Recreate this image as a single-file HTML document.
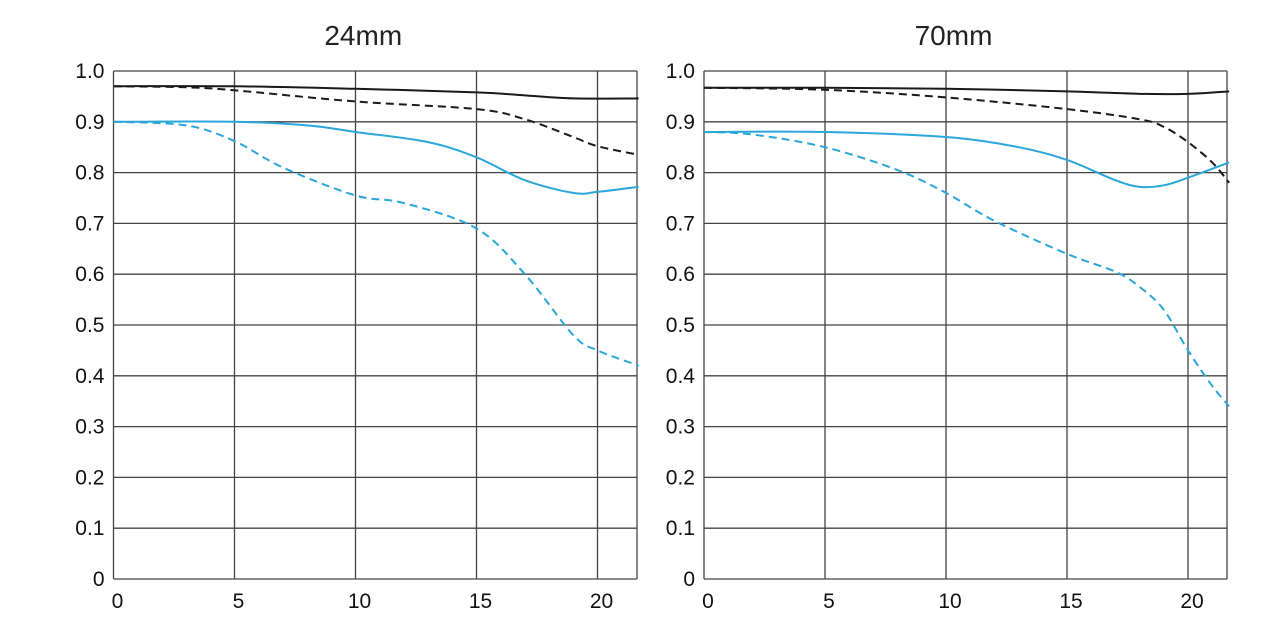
<!DOCTYPE html>
<html><head><meta charset="utf-8"><style>
html,body{margin:0;padding:0;background:#fff;}
svg{display:block;font-family:"Liberation Sans",sans-serif;}
</style></head><body>
<svg id="c" width="1279" height="627"></svg>
<script>
const xTicks=[0,5,10,15,20];
const yTicks=[0,0.1,0.2,0.3,0.4,0.5,0.6,0.7,0.8,0.9,1.0];
const yTickLabels=["0","0.1","0.2","0.3","0.4","0.5","0.6","0.7","0.8","0.9","1.0"];
const titles=["24mm","70mm"];
const a_blackSolid=[[0,.97],[5,.97],[10,.965],[15,.958],[17,.952],[19,.946],[21.7,.946]];
const a_blackDash=[[0,.97],[3,.968],[5,.962],[10,.94],[15,.925],[17,.905],[19,.87],[20,.852],[21.7,.835]];
const a_blueSolid=[[0,.9],[5,.9],[8,.893],[10,.88],[13,.86],[15,.83],[17,.785],[19,.76],[20,.762],[21.7,.772]];
const a_blueDash=[[0,.9],[3,.893],[5,.862],[7,.81],[10,.755],[12,.74],[15,.69],[17,.6],[19,.48],[20,.45],[21.7,.42]];
const b_blackSolid=[[0,.967],[5,.967],[10,.965],[15,.96],[18,.955],[20,.955],[21.7,.96]];
const b_blackDash=[[0,.967],[5,.963],[10,.948],[15,.925],[18,.905],[19,.89],[20,.86],[21,.82],[21.7,.78]];
const b_blueSolid=[[0,.88],[5,.88],[10,.87],[13,.85],[15,.825],[17,.785],[18,.772],[19,.775],[20,.79],[21.7,.82]];
const b_blueDash=[[0,.88],[2,.875],[5,.85],[8,.805],[10,.76],[12,.705],[15,.64],[17,.605],[18,.575],[19,.53],[20,.45],[21,.38],[21.7,.34]];
const seriesSets=[[a_blackSolid,a_blackDash,a_blueSolid,a_blueDash],[b_blackSolid,b_blackDash,b_blueSolid,b_blueDash]];
const NS="http://www.w3.org/2000/svg";
const svg=document.getElementById('c');
function mk(tag,attrs,parent){const e=document.createElementNS(NS,tag);for(const k in attrs)e.setAttribute(k,attrs[k]);(parent||svg).appendChild(e);return e;}
const panels=[{x0:113.5,x1:637},{x0:704,x1:1227}];
const yTop=71,yBot=579,xPer=24.2;
const styles=[{c:"#1a1a1a",d:""},{c:"#1a1a1a",d:"8,5"},{c:"#2aa6d9",d:""},{c:"#2aa6d9",d:"8,5"}];
const names=["sagittal-10lp-black","meridional-10lp-black-dashed","sagittal-30lp-blue","meridional-30lp-blue-dashed"];
panels.forEach((p,pi)=>{
  const g=mk('g',{});
  
  
  const X=v=>p.x0+v*xPer, Y=v=>yBot-v*(yBot-yTop);
  const t=mk('text',{x:(p.x0+p.x1)/2-12,y:45,'text-anchor':'middle','font-size':28,fill:'#222'},g);t.textContent=titles[pi];
  
  yTicks.forEach((v,i)=>{
    const l=mk('line',{x1:p.x0,x2:p.x1,y1:Y(v),y2:Y(v),stroke:'#444','stroke-width':1.3},g);
    
    const tx=mk('text',{x:p.x0-9,y:Y(v)+7,'text-anchor':'end','font-size':21,fill:'#111'},g);tx.textContent=yTickLabels[i];
    
  });
  xTicks.forEach(v=>{
    const l=mk('line',{x1:X(v),x2:X(v),y1:yTop,y2:yBot,stroke:'#444','stroke-width':1.3},g);
    
    const tx=mk('text',{x:X(v)+4,y:608,'text-anchor':'middle','font-size':21,fill:'#111'},g);tx.textContent=String(v);
    
  });
  const r=mk('line',{x1:p.x1,x2:p.x1,y1:yTop,y2:yBot,stroke:'#444','stroke-width':1.3},g);
  
  seriesSets[pi].forEach((s,si)=>{
    const pts=s.map(q=>[X(q[0]),Y(q[1])]);
    let d='M'+pts[0][0]+','+pts[0][1];
    for(let i=0;i<pts.length-1;i++){
      const p0=pts[Math.max(0,i-1)],p1=pts[i],p2=pts[i+1],p3=pts[Math.min(pts.length-1,i+2)];
      const c1=[p1[0]+(p2[0]-p0[0])/6,p1[1]+(p2[1]-p0[1])/6],c2=[p2[0]-(p3[0]-p1[0])/6,p2[1]-(p3[1]-p1[1])/6];
      d+=' C'+c1+' '+c2+' '+p2;
    }
    const path=mk('path',{d:d,fill:'none',stroke:styles[si].c,'stroke-width':2,'stroke-dasharray':styles[si].d},g);
    
    
  });
});
</script>
</body></html>
